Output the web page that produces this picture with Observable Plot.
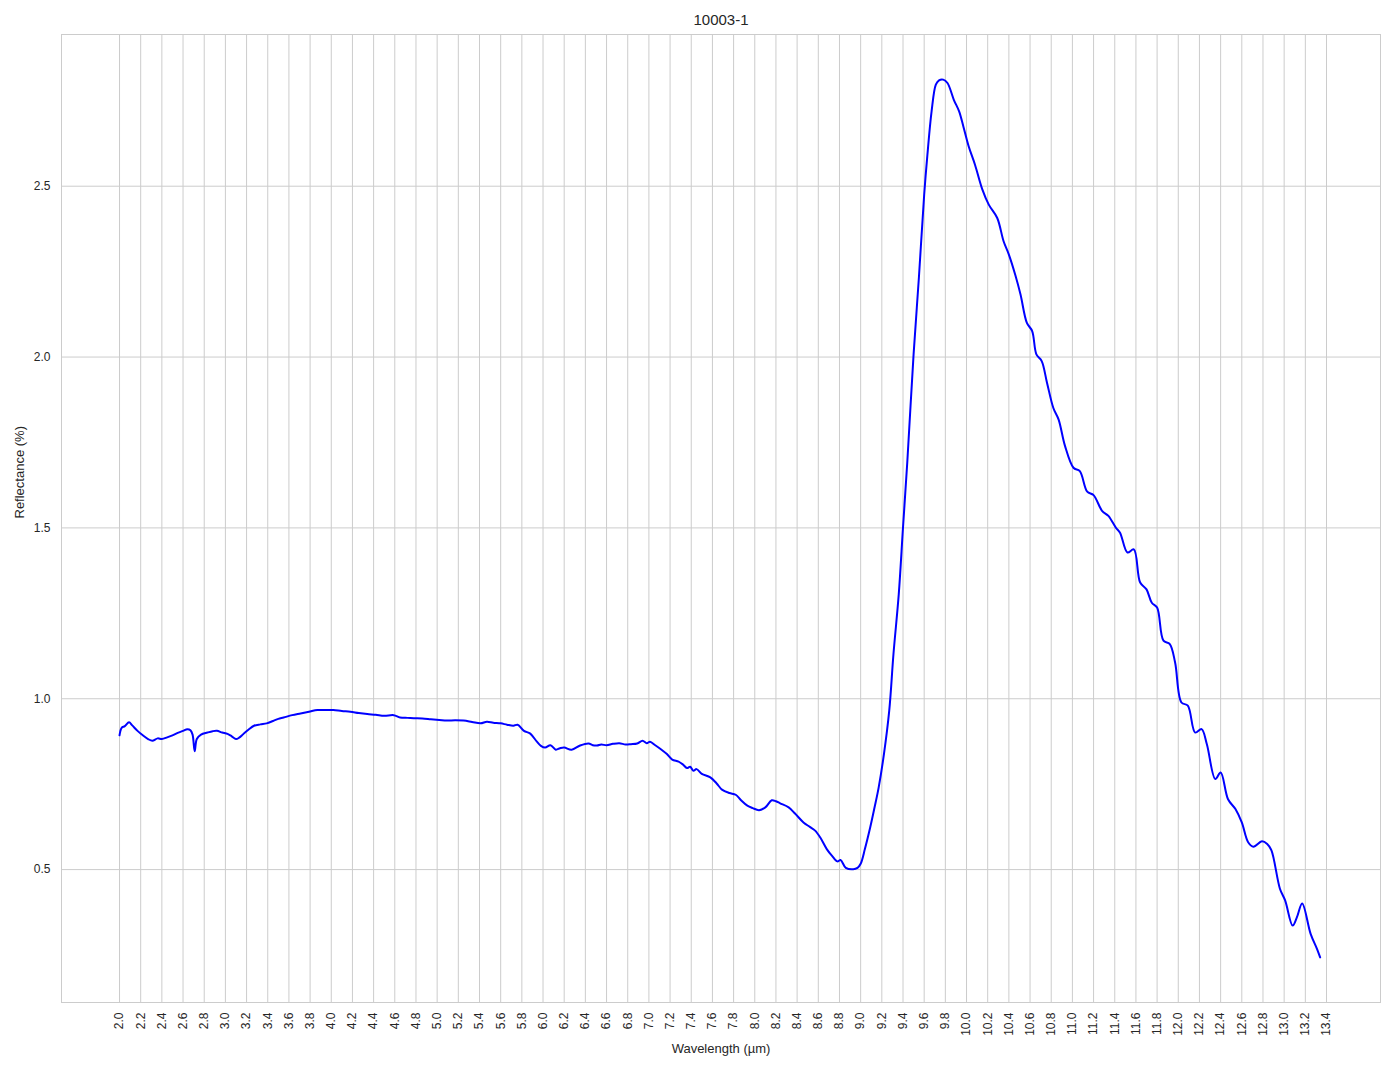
<!DOCTYPE html>
<html>
<head>
<meta charset="utf-8">
<script src="https://cdn.jsdelivr.net/npm/d3@7"></script>
<script src="https://cdn.jsdelivr.net/npm/@observablehq/plot@0.6"></script>
<style>
  html, body { margin: 0; padding: 0; background: #fff; }
  #chart { width: 1394px; height: 1069px; }
</style>
</head>
<body>
<div id="chart"></div>
<script>
const title = "10003-1";
const xLabel = "Wavelength (µm)";
const yLabel = "Reflectance (%)";

const wavelength = [
  2.00, 2.02, 2.05, 2.09, 2.12, 2.17, 2.22, 2.27, 2.31, 2.36, 2.40, 2.45, 2.50, 2.55, 2.60, 2.64, 2.67, 2.69, 2.71, 2.73,
  2.77, 2.83, 2.88, 2.92, 2.97, 3.02, 3.06, 3.10, 3.13, 3.17, 3.22, 3.27, 3.33, 3.39, 3.45, 3.50, 3.55, 3.63, 3.71, 3.79,
  3.87, 3.95, 4.02, 4.10, 4.18, 4.26, 4.34, 4.42, 4.50, 4.59, 4.65, 4.72, 4.78, 4.86, 4.94, 5.02, 5.09, 5.17, 5.25, 5.33,
  5.41, 5.47, 5.53, 5.60, 5.66, 5.72, 5.76, 5.82, 5.88, 5.94, 5.98, 6.02, 6.07, 6.12, 6.16, 6.20, 6.27, 6.35, 6.43, 6.47,
  6.51, 6.55, 6.60, 6.66, 6.72, 6.78, 6.83, 6.89, 6.94, 6.98, 7.01, 7.06, 7.11, 7.17, 7.22, 7.28, 7.32, 7.36, 7.39, 7.42,
  7.45, 7.50, 7.58, 7.64, 7.69, 7.76, 7.82, 7.87, 7.93, 7.98, 8.04, 8.10, 8.16, 8.20, 8.24, 8.32, 8.38, 8.46, 8.52, 8.57,
  8.62, 8.68, 8.73, 8.78, 8.81, 8.86, 8.93, 8.97, 9.00, 9.04, 9.09, 9.13, 9.17, 9.22, 9.27, 9.31, 9.36, 9.40, 9.44, 9.50,
  9.55, 9.60, 9.63, 9.67, 9.71, 9.74, 9.78, 9.82, 9.88, 9.93, 9.97, 10.02, 10.08, 10.15, 10.21, 10.29, 10.35, 10.40, 10.46, 10.51,
  10.57, 10.62, 10.66, 10.71, 10.76, 10.82, 10.87, 10.93, 11.01, 11.07, 11.14, 11.20, 11.28, 11.34, 11.41, 11.45, 11.52, 11.58, 11.64, 11.70,
  11.75, 11.80, 11.86, 11.92, 11.97, 12.03, 12.09, 12.16, 12.22, 12.27, 12.35, 12.40, 12.47, 12.54, 12.60, 12.66, 12.71, 12.79, 12.84, 12.88,
  12.96, 13.01, 13.08, 13.12, 13.17, 13.25, 13.31, 13.34
];

const reflectance = [
  0.893, 0.915, 0.920, 0.931, 0.922, 0.906, 0.893, 0.882, 0.877, 0.884, 0.882, 0.887, 0.893, 0.900, 0.906, 0.911, 0.908, 0.895, 0.846, 0.882,
  0.895, 0.901, 0.905, 0.906, 0.901, 0.897, 0.890, 0.882, 0.886, 0.897, 0.910, 0.921, 0.925, 0.928, 0.935, 0.941, 0.945, 0.952, 0.957, 0.962,
  0.967, 0.967, 0.967, 0.964, 0.962, 0.958, 0.955, 0.953, 0.950, 0.952, 0.945, 0.944, 0.943, 0.942, 0.940, 0.938, 0.936, 0.937, 0.936, 0.932,
  0.928, 0.933, 0.930, 0.928, 0.924, 0.921, 0.924, 0.906, 0.898, 0.875, 0.862, 0.857, 0.864, 0.851, 0.855, 0.857, 0.851, 0.863, 0.869, 0.864,
  0.863, 0.866, 0.864, 0.868, 0.870, 0.866, 0.867, 0.869, 0.877, 0.870, 0.874, 0.864, 0.853, 0.838, 0.822, 0.816, 0.808, 0.797, 0.801, 0.789,
  0.794, 0.780, 0.770, 0.752, 0.734, 0.724, 0.719, 0.703, 0.687, 0.680, 0.674, 0.682, 0.703, 0.700, 0.694, 0.682, 0.664, 0.638, 0.625, 0.614,
  0.593, 0.560, 0.540, 0.524, 0.528, 0.505, 0.501, 0.505, 0.517, 0.560, 0.623, 0.680, 0.740, 0.838, 0.965, 1.131, 1.306, 1.501, 1.690, 2.008,
  2.232, 2.475, 2.590, 2.719, 2.797, 2.810, 2.812, 2.802, 2.753, 2.719, 2.675, 2.617, 2.563, 2.490, 2.446, 2.407, 2.339, 2.300, 2.241, 2.183,
  2.100, 2.076, 2.008, 1.988, 1.925, 1.851, 1.817, 1.740, 1.676, 1.666, 1.606, 1.596, 1.550, 1.535, 1.501, 1.486, 1.428, 1.437, 1.340, 1.320,
  1.281, 1.267, 1.170, 1.160, 1.106, 0.989, 0.980, 0.901, 0.911, 0.867, 0.765, 0.784, 0.706, 0.677, 0.638, 0.580, 0.567, 0.583, 0.575, 0.556,
  0.444, 0.409, 0.336, 0.360, 0.401, 0.312, 0.268, 0.243
];

const xTicks = [2.0,2.2,2.4,2.6,2.8,3.0,3.2,3.4,3.6,3.8,4.0,4.2,4.4,4.6,4.8,5.0,5.2,5.4,5.6,5.8,6.0,6.2,6.4,6.6,6.8,7.0,7.2,7.4,7.6,7.8,8.0,8.2,8.4,8.6,8.8,9.0,9.2,9.4,9.6,9.8,10.0,10.2,10.4,10.6,10.8,11.0,11.2,11.4,11.6,11.8,12.0,12.2,12.4,12.6,12.8,13.0,13.2,13.4];
const yTicks = [0.5, 1.0, 1.5, 2.0, 2.5];

const data = wavelength.map((w, i) => ({w, r: reflectance[i]}));

const textColor = "#262626";
const gridColor = "#cccccc";

const chart = Plot.plot({
  width: 1394,
  height: 1069,
  marginLeft: 61,
  marginRight: 14,
  marginTop: 34,
  marginBottom: 67,
  style: {fontFamily: "'Liberation Sans', Arial, sans-serif", background: "#fff", color: textColor},
  x: {domain: [1.452, 13.91]},
  y: {domain: [0.111, 2.944]},
  marks: [
    Plot.gridX(xTicks, {stroke: gridColor, strokeOpacity: 1, strokeWidth: 1}),
    Plot.gridY(yTicks, {stroke: gridColor, strokeOpacity: 1, strokeWidth: 1}),
    Plot.frame({stroke: gridColor, strokeWidth: 1}),
    Plot.axisX(xTicks, {tickSize: 0, tickPadding: 10, tickRotate: -90, tickFormat: d3.format(".1f"), fontSize: 12, fill: textColor, label: null}),
    Plot.axisY(yTicks, {tickSize: 0, tickPadding: 11, tickFormat: d3.format(".1f"), fontSize: 12, fill: textColor, label: null}),
    Plot.line(data, {x: "w", y: "r", stroke: "#0000ff", strokeWidth: 2, curve: "catmull-rom"}),
    Plot.text([title], {frameAnchor: "top", lineAnchor: "middle", dy: -14, text: d => d, fontSize: 15, fill: textColor}),
    Plot.text([xLabel], {frameAnchor: "bottom", lineAnchor: "middle", dy: 46, text: d => d, fontSize: 13, fill: textColor}),
    Plot.text([yLabel], {frameAnchor: "left", lineAnchor: "middle", dx: -42, rotate: -90, text: d => d, fontSize: 13, fill: textColor})
  ]
});
document.getElementById("chart").appendChild(chart);
</script>
</body>
</html>
